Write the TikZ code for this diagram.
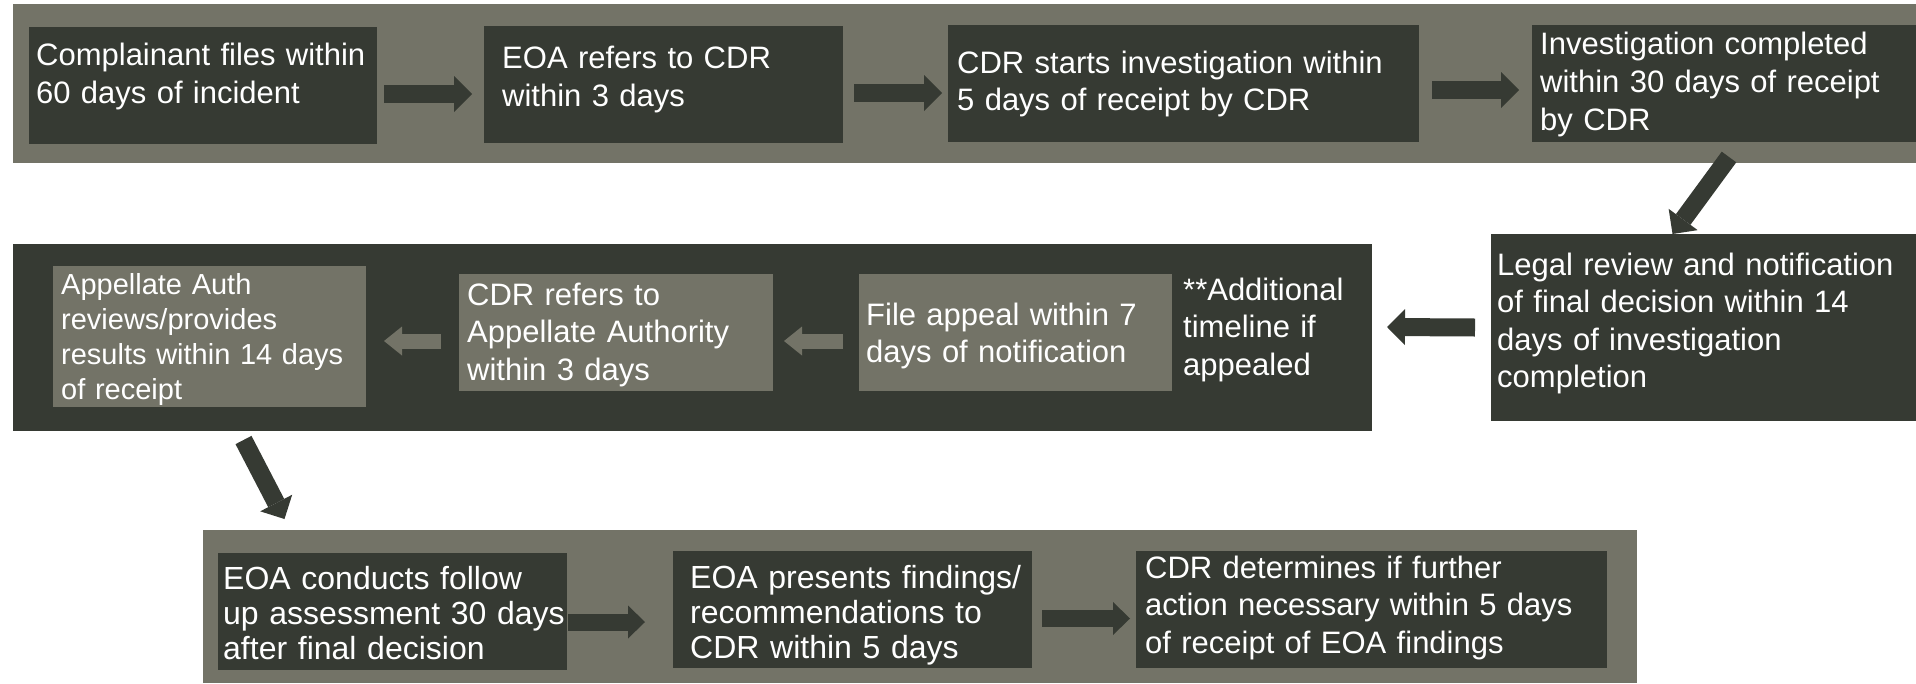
\documentclass[tikz,border=0pt]{standalone}
\usepackage{fontspec}
\setmainfont{Liberation Sans}
\usetikzlibrary{arrows.meta}
\definecolor{slate}{RGB}{115,115,103}
\definecolor{coal}{RGB}{54,58,51}
\begin{document}
\begin{tikzpicture}[x=1pt,y=-1pt,
  box/.style={fill=#1,draw=none,inner sep=0pt,outer sep=0pt,anchor=north west},
  txt/.style={text=white,inner sep=0pt,anchor=base west,align=left,text width=#1,font=\fontsize{31}{37.5}\selectfont},
  blk/.style={draw=coal,line width=18pt,-{Triangle[length=18pt,width=36pt,line width=0pt]}},
  pale/.style={draw=slate,line width=15pt,-{Triangle[length=18pt,width=29pt,line width=0pt]}},
  low/.style={draw=coal,line width=17pt,-{Triangle[length=17pt,width=33pt,line width=0pt]}}]
\useasboundingbox (0,0) rectangle (1916,683);
\fill[white] (0,0) rectangle (1916,683);
\begin{scope}
\node[box=slate,minimum width=1903pt,minimum height=159pt] (row1) at (13,4) {};
\node[box=coal,minimum width=348pt,minimum height=117pt] (b1) at (29,27) {};
\node[box=coal,minimum width=359pt,minimum height=117pt] (b2) at (484,26) {};
\node[box=coal,minimum width=471pt,minimum height=117pt] (b3) at (948,25) {};
\node[box=coal,minimum width=384pt,minimum height=117pt] (b4) at (1532,25) {};
\node[txt=340pt,font=\fontsize{31}{38.5}\selectfont] (t1) at (36,65) {Complainant files within\\60 days of incident};
\node[txt=340pt,font=\fontsize{31}{38.5}\selectfont] (t2) at (502,68) {EOA refers to CDR\\within 3 days};
\node[txt=460pt] (t3) at (957,73) {CDR starts investigation within\\5 days of receipt by CDR};
\node[txt=370pt,font=\fontsize{31}{38}\selectfont] (t4) at (1540,54) {Investigation completed\\within 30 days of receipt\\by CDR};
\draw[blk] ([shift={(7,8.5)}]b1.east) -- ([shift={(-12,9.5)}]b2.west);
\draw[blk] ([shift={(11,8.5)}]b2.east) -- ([shift={(-6,9.5)}]b3.west);
\draw[blk] ([shift={(13,6.5)}]b3.east) -- ([shift={(-13,6.5)}]b4.west);
\end{scope}
\begin{scope}
\node[box=coal,minimum width=1359pt,minimum height=187pt] (row2) at (13,244) {};
\node[box=slate,minimum width=313pt,minimum height=141pt] (c1) at (53,266) {};
\node[box=slate,minimum width=314pt,minimum height=117pt] (c2) at (459,274) {};
\node[box=slate,minimum width=313pt,minimum height=117pt] (c3) at (859,274) {};
\node[box=coal,minimum width=425pt,minimum height=187pt] (legal) at (1491,234) {};
\node[txt=300pt,font=\fontsize{29}{35}\selectfont] (u1) at (61,294) {Appellate Auth\\reviews/provides\\results within 14 days\\of receipt};
\node[txt=300pt] (u2) at (467,305) {CDR refers to\\Appellate Authority\\within 3 days};
\node[txt=300pt] (u3) at (866,325) {File appeal within 7\\days of notification};
\node[txt=185pt] (note) at (1183,300) {**Additional\\timeline if\\appealed};
\node[txt=412pt] (u4) at (1497,275) {Legal review and notification\\of final decision within 14\\days of investigation\\completion};
\draw[blk] ([shift={(5,15)}]b4.south) -- ([shift={(-31,0)}]legal.north);
\draw[blk] ([shift={(-16,0)}]legal.west) -- ([shift={(15,-10.5)}]row2.east);
\draw[pale] ([shift={(-16,8.5)}]c3.west) -- ([shift={(11,8.5)}]c2.east);
\draw[pale] ([shift={(-18,8.5)}]c2.west) -- ([shift={(18,4.5)}]c1.east);
\end{scope}
\begin{scope}
\node[box=slate,minimum width=1434pt,minimum height=153pt] (row3) at (203,530) {};
\node[box=coal,minimum width=349pt,minimum height=117pt] (g1) at (218,553) {};
\node[box=coal,minimum width=359pt,minimum height=117pt] (g2) at (673,551) {};
\node[box=coal,minimum width=471pt,minimum height=117pt] (g3) at (1136,551) {};
\node[txt=345pt,font=\fontsize{32}{35}\selectfont] (v1) at (223,589) {EOA conducts follow\\up assessment 30 days\\after final decision};
\node[txt=340pt,font=\fontsize{32}{35}\selectfont] (v2) at (690,588) {EOA presents findings/\\recommendations to\\CDR within 5 days};
\node[txt=460pt] (v3) at (1145,578) {CDR determines if further\\action necessary within 5 days\\of receipt of EOA findings};
\draw[blk] ([shift={(34,33)}]c1.south) -- ([shift={(-108,-34)}]g1.north);
\draw[low] ([shift={(1,10.5)}]g1.east) -- ([shift={(-28,12.5)}]g2.west);
\draw[low] ([shift={(10,9)}]g2.east) -- ([shift={(-6,9)}]g3.west);
\end{scope}
\end{tikzpicture}
\end{document}
